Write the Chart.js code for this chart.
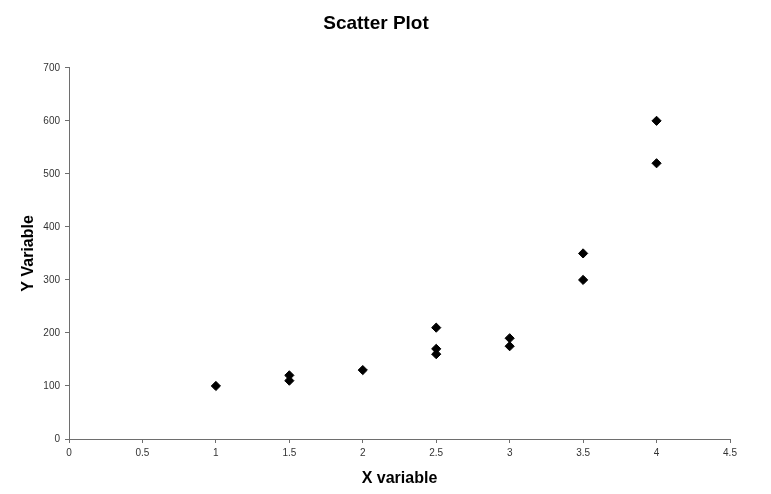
<!DOCTYPE html>
<html>
<head>
<meta charset="utf-8">
<script src="https://cdn.jsdelivr.net/npm/chart.js@4"></script>
<style>
  html, body { margin: 0; padding: 0; background: #fff; }
  #wrap { width: 771px; height: 494px; position: relative; }
</style>
</head>
<body>
<div id="wrap"><canvas id="chart"></canvas></div>
<script>
const xValues = [1, 1.5, 1.5, 2, 2.5, 2.5, 2.5, 3, 3, 3.5, 3.5, 4, 4];
const yValues = [100, 120, 110, 130, 210, 170, 160, 190, 175, 350, 300, 600, 520];

const xTicks = [0, 0.5, 1, 1.5, 2, 2.5, 3, 3.5, 4, 4.5];
const yTicks = [0, 100, 200, 300, 400, 500, 600, 700];

const FONT = "'Liberation Sans', Arial, sans-serif";
const axisColor = "#6e6e6e";

const points = xValues.map((x, i) => ({ x: x, y: yValues[i] }));

new Chart(document.getElementById("chart"), {
  type: "scatter",
  data: {
    datasets: [{
      label: "Y Variable",
      data: points,
      pointStyle: "rectRot",
      pointRadius: 4.6,
      pointBackgroundColor: "#000",
      pointBorderColor: "#000",
      pointBorderWidth: 1
    }]
  },
  options: {
    responsive: true,
    maintainAspectRatio: false,
    animation: false,
    // title is centred on the padded width, plot area is pulled in via the x scale padding
    layout: { padding: { left: 0, right: 19, top: 0, bottom: 0 } },
    plugins: {
      legend: { display: false },
      tooltip: { enabled: false },
      title: {
        display: true,
        text: "Scatter Plot",
        color: "#000",
        font: { family: FONT, size: 19, weight: "bold" },
        padding: { top: 12, bottom: 33 }
      }
    },
    scales: {
      x: {
        type: "linear",
        min: xTicks[0],
        max: xTicks[xTicks.length - 1],
        afterBuildTicks: s => { s.ticks = xTicks.map(v => ({ value: v })); },
        afterFit: s => { s.height = 55; s.paddingRight = 41; },
        border: { color: axisColor, width: 1 },
        grid: { drawOnChartArea: false, drawTicks: true, tickLength: 4, tickColor: axisColor },
        ticks: {
          color: "#333",
          font: { family: FONT, size: 10 },
          padding: 4,
          callback: v => String(v)
        },
        title: {
          display: true,
          text: "X variable",
          color: "#000",
          font: { family: FONT, size: 16, weight: "bold" },
          padding: { top: 0, bottom: 6 }
        }
      },
      y: {
        type: "linear",
        min: yTicks[0],
        max: yTicks[yTicks.length - 1],
        afterBuildTicks: s => { s.ticks = yTicks.map(v => ({ value: v })); },
        afterFit: s => { s.width = 69; },
        border: { color: axisColor, width: 1 },
        grid: { drawOnChartArea: false, drawTicks: true, tickLength: 4, tickColor: axisColor },
        ticks: { color: "#333", font: { family: FONT, size: 10 }, padding: 5 },
        title: {
          display: true,
          text: "Y Variable",
          color: "#000",
          font: { family: FONT, size: 16, weight: "bold" },
          padding: { top: 19, bottom: 0 }
        }
      }
    }
  }
});
</script>
</body>
</html>
